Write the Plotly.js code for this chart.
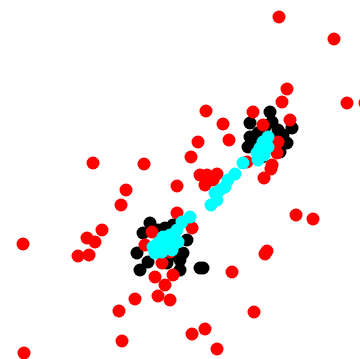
<!DOCTYPE html>
<html><head><meta charset="utf-8">
<script src="https://cdn.plot.ly/plotly-3.0.1.min.js"></script>
<style>html,body{margin:0;padding:0;background:#fff;}#plot{width:360px;height:359px;}</style>
</head><body><div id="plot"></div>
<script>
var redX = [279,334,287,282,347,365,206,253,223,290,263,198,229,278,277,93,144,191,247,271,264,200,217,205,207,213,177,126,121,296,313,177,23,102,87,95,78,89,192,152,145,267,265,162,232,155,173,165,135,158,170,119,254,192,205,122,217,24,170,272];
var redY = [17,39,89,102,103,103,111,112,124,120,125,142,140,142,153,163,164,157,162,169,178,175,174,185,175,180,186,190,205,215,219,213,244,230,238,242,256,255,228,232,245,251,254,263,272,277,275,285,299,296,300,311,312,334,329,341,349,353,252,165];
var blackX = [270,250,292,287,248,272,278,258,250,277,255,280,262,265,283, 150,165,173,143,187,137,140,180,180,200,203,167,148,183,158,175];
var blackY = [112,123,128,143,147,122,130,133,137,140,143,152,157,127,135, 223,228,225,233,240,253,270,260,270,268,268,263,262,253,230,255];
var cyanX = [268,263,260,257,258,268,264,243,235,228,225,220,215,217,211,190,182,177,170,163,158,153,162,172,178,167,155];
var cyanY = [137,142,148,153,160,147,155,163,174,180,187,190,193,200,205,217,222,230,235,237,243,247,252,250,242,243,253];

function tr(x, y, c) {
  return {x: x, y: y, type: 'scatter', mode: 'markers', hoverinfo: 'skip',
    marker: {color: c, size: 13, line: {width: 0}}, cliponaxis: true};
}
var data = [tr(blackX, blackY, '#000000'), tr(redX, redY, '#ff0000'), tr(cyanX, cyanY, '#00ffff')];
var ax = {showgrid: false, zeroline: false, showline: false, showticklabels: false, ticks: ''};
var layout = {
  width: 360, height: 359, showlegend: false,
  margin: {l: 0, r: 0, t: 0, b: 0, pad: 0},
  paper_bgcolor: '#ffffff', plot_bgcolor: '#ffffff',
  xaxis: Object.assign({range: [0, 360]}, ax),
  yaxis: Object.assign({range: [359, 0]}, ax)
};
Plotly.newPlot('plot', data, layout, {displayModeBar: false, staticPlot: true});
</script></body></html>
